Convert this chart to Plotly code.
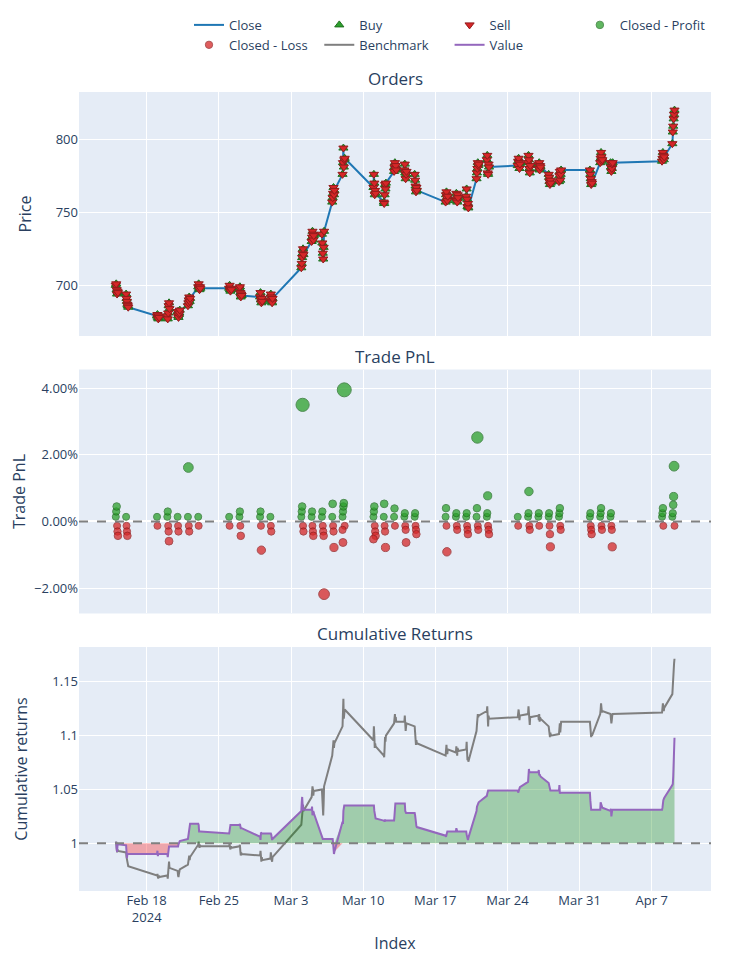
#!/usr/bin/env python3


# +
# import(s)
# -
import plotly.graph_objs as go
from plotly.subplots import make_subplots


# +
# data
# -
days = ['2024-02-15', '2024-02-16', '2024-02-19', '2024-02-20', '2024-02-21', '2024-02-22',
        '2024-02-23', '2024-02-26', '2024-02-27', '2024-02-29', '2024-03-01', '2024-03-04',
        '2024-03-05', '2024-03-06', '2024-03-07', '2024-03-08', '2024-03-11', '2024-03-12',
        '2024-03-13', '2024-03-14', '2024-03-15', '2024-03-18', '2024-03-19', '2024-03-20',
        '2024-03-21', '2024-03-22', '2024-03-25', '2024-03-26', '2024-03-27', '2024-03-28',
        '2024-03-29', '2024-04-01', '2024-04-02', '2024-04-03', '2024-04-08', '2024-04-09']
bar_times = ['00:00', '01:00', '02:00', '03:00', '04:00', '05:00']

# close, 6 bars per day
close = [700, 701, 697, 694, 696, 695,
         694, 691, 689, 687, 686, 685,
         679, 680, 678, 677, 679, 678,
         679, 677, 681, 686, 688, 684,
         682, 679, 678, 680, 681, 683,
         686, 688, 690, 692, 689, 691,
         699, 701, 698, 697, 699, 698,
         698, 700, 697, 696, 698, 697,
         698, 699, 695, 692, 694, 693,
         692, 695, 690, 688, 691, 689,
         690, 694, 692, 689, 688, 691,
         712, 715, 719, 722, 725, 721,
         730, 733, 737, 735, 731, 734,
         735, 729, 722, 718, 726, 737,
         757, 760, 763, 767, 762, 765,
         776, 784, 794, 781, 786, 787,
         767, 776, 770, 762, 765, 763,
         757, 756, 762, 769, 766, 770,
         778, 781, 784, 780, 782, 779,
         779, 783, 777, 773, 776, 778,
         776, 772, 768, 764, 767, 765,
         757, 762, 764, 760, 758, 761,
         759, 763, 758, 757, 762, 760,
         761, 766, 759, 754, 756, 753,
         773, 777, 780, 784, 782, 783,
         786, 789, 777, 776, 783, 781,
         782, 785, 787, 784, 780, 783,
         784, 789, 786, 780, 777, 782,
         783, 780, 784, 779, 782, 781,
         776, 774, 771, 769, 772, 770,
         771, 775, 778, 772, 776, 779,
         779, 776, 773, 769, 771, 770,
         784, 787, 791, 788, 785, 786,
         784, 781, 778, 780, 783, 784,
         785, 787, 791, 789, 786, 788,
         797, 805, 809, 814, 817, 820]

# portfolio value (cumulative returns), 6 bars per day
value = [1.000, 1.001, 0.995, 0.992, 0.998, 0.999,
         0.998, 0.994, 0.986, 0.990, 0.990, 0.990,
         0.990, 0.993, 0.988, 0.990, 0.990, 0.990,
         0.990, 0.987, 0.991, 0.997, 0.997, 0.997,
         0.997, 0.997, 0.999, 1.001, 1.001, 1.002,
         1.004, 1.008, 1.012, 1.016, 1.018, 1.018,
         1.018, 1.017, 1.011, 1.011, 1.011, 1.011,
         1.009, 1.014, 1.017, 1.017, 1.017, 1.017,
         1.017, 1.018, 1.014, 1.014, 1.014, 1.014,
         1.006, 1.003, 1.010, 1.009, 1.009, 1.009,
         1.009, 1.009, 1.008, 1.004, 1.003, 1.004,
         1.030, 1.038, 1.043, 1.036, 1.031, 1.031,
         1.031, 1.034, 1.026, 1.029, 1.030, 1.028,
         1.005, 1.004, 1.004, 1.004, 1.004, 1.004,
         1.004, 1.004, 1.000, 0.995, 0.990, 0.992,
         1.020, 1.018, 1.030, 1.035, 1.035, 1.035,
         1.035, 1.035, 1.030, 1.025, 1.024, 1.023,
         1.021, 1.021, 1.020, 1.022, 1.021, 1.021,
         1.021, 1.026, 1.037, 1.037, 1.037, 1.037,
         1.037, 1.037, 1.030, 1.028, 1.028, 1.028,
         1.028, 1.026, 1.020, 1.016, 1.016, 1.015,
         1.007, 1.006, 1.009, 1.011, 1.011, 1.011,
         1.011, 1.014, 1.011, 1.011, 1.011, 1.011,
         1.011, 1.008, 1.004, 1.004, 1.003, 1.005,
         1.030, 1.034, 1.036, 1.036, 1.037, 1.038,
         1.044, 1.046, 1.049, 1.049, 1.049, 1.049,
         1.049, 1.047, 1.049, 1.050, 1.051, 1.052,
         1.057, 1.063, 1.069, 1.066, 1.066, 1.066,
         1.066, 1.068, 1.063, 1.064, 1.063, 1.062,
         1.056, 1.054, 1.050, 1.049, 1.049, 1.049,
         1.049, 1.054, 1.046, 1.047, 1.047, 1.047,
         1.047, 1.040, 1.031, 1.031, 1.031, 1.031,
         1.031, 1.038, 1.037, 1.035, 1.034, 1.033,
         1.030, 1.032, 1.025, 1.031, 1.031, 1.031,
         1.031, 1.033, 1.040, 1.040, 1.041, 1.042,
         1.054, 1.055, 1.062, 1.077, 1.090, 1.098]

# closed trade pnl in %, one list per day
trade_pnl = [[0.14, 0.30, 0.45, -0.13, -0.30, -0.43],
             [0.14, -0.13, -0.30, -0.43],
             [0.14, -0.13],
             [0.14, 0.30, -0.13, -0.30, -0.59],
             [0.14, -0.13, -0.30],
             [0.14, 1.62, -0.13, -0.30],
             [0.14, -0.13],
             [0.14, -0.13],
             [0.14, 0.30, -0.13, -0.43],
             [0.14, 0.30, -0.13, -0.86],
             [0.14, -0.13, -0.30],
             [0.14, 0.30, 0.45, 3.50, -0.13, -0.30],
             [0.14, 0.30, -0.13, -0.30, -0.43],
             [0.14, 0.30, -0.13, -0.30, -0.43, -2.18],
             [0.14, 0.53, -0.13, -0.30, -0.78],
             [0.14, 0.30, 0.45, 0.55, 3.95, -0.13, -0.25, -0.63],
             [0.14, 0.30, 0.45, -0.13, -0.30, -0.43, -0.53],
             [0.14, 0.53, -0.13, -0.30, -0.78],
             [0.14, 0.39, -0.13],
             [0.14, 0.25, -0.13, -0.25, -0.63],
             [0.14, 0.25, -0.13, -0.25, -0.38],
             [0.14, 0.40, -0.13, -0.91],
             [0.14, 0.25, -0.13, -0.25],
             [0.14, 0.25, -0.13, -0.25, -0.38],
             [0.14, 0.40, 2.52, -0.13, -0.25],
             [0.14, 0.25, 0.77, -0.13, -0.25, -0.38],
             [0.14, -0.13],
             [0.14, 0.25, 0.90, -0.13, -0.25],
             [0.14, 0.25, -0.13],
             [0.14, 0.25, -0.13, -0.38, -0.76],
             [0.14, 0.25, 0.40, -0.13, -0.25],
             [0.14, 0.25, -0.13, -0.25, -0.38],
             [0.14, 0.25, 0.40, -0.13, -0.25],
             [0.14, 0.25, -0.13, -0.25, -0.76],
             [0.14, 0.25, 0.40, -0.13],
             [0.14, 0.25, 0.50, 0.75, 1.66, -0.13]]


# +
# colours
# -
GREEN, GREEN_DARK = '#2ca02c', '#1e6e1e'
RED, RED_DARK = '#d62728', '#931b1c'
WEEK_MS = 7 * 24 * 3600 * 1000


# +
# derived series
# -
ts = [f'{d} {t}' for d in days for t in bar_times]
benchmark = [c / close[0] for c in close]

exit_x, exit_pnl = [], []
for _i, _day in enumerate(days):
    for _k, _p in enumerate(trade_pnl[_i]):
        exit_x.append(f'{_day} {bar_times[_k % len(bar_times)]}')
        exit_pnl.append(_p / 100.0)

_abs = [abs(p) for p in exit_pnl]
_lo, _hi = min(_abs), max(_abs)
exit_size = [7 + 7 * (a - _lo) / (_hi - _lo) for a in _abs]

prof = [i for i, p in enumerate(exit_pnl) if p >= 0]
loss = [i for i, p in enumerate(exit_pnl) if p < 0]


# +
# figure
# -
fig = make_subplots(rows=3, cols=1, shared_xaxes=True, vertical_spacing=0.042,
                    subplot_titles=('Orders', 'Trade PnL', 'Cumulative Returns'))

# orders
fig.add_trace(go.Scatter(x=ts, y=close, mode='lines', name='Close',
                         line=dict(color='#1f77b4', width=2)), row=1, col=1)
fig.add_trace(go.Scatter(x=ts, y=close, mode='markers', name='Buy',
                         marker=dict(symbol='triangle-up', size=8, color=GREEN,
                                     line=dict(width=1, color=GREEN_DARK))), row=1, col=1)
fig.add_trace(go.Scatter(x=ts, y=close, mode='markers', name='Sell',
                         marker=dict(symbol='triangle-down', size=8, color=RED,
                                     line=dict(width=1, color=RED_DARK))), row=1, col=1)

# trade pnl
fig.add_trace(go.Scatter(x=[exit_x[i] for i in prof], y=[exit_pnl[i] for i in prof],
                         mode='markers', name='Closed - Profit',
                         marker=dict(size=[exit_size[i] for i in prof], color=GREEN, opacity=0.75,
                                     line=dict(width=1, color=GREEN_DARK))), row=2, col=1)
fig.add_trace(go.Scatter(x=[exit_x[i] for i in loss], y=[exit_pnl[i] for i in loss],
                         mode='markers', name='Closed - Loss',
                         marker=dict(size=[exit_size[i] for i in loss], color=RED, opacity=0.75,
                                     line=dict(width=1, color=RED_DARK))), row=2, col=1)

# cumulative returns
fig.add_trace(go.Scatter(x=ts, y=benchmark, mode='lines', name='Benchmark',
                         line=dict(color='#7f7f7f', width=2)), row=3, col=1)
_one = [1.0] * len(ts)
_clear = dict(color='rgba(0, 0, 0, 0)', width=0)
fig.add_trace(go.Scatter(x=ts, y=_one, mode='lines', line=_clear, showlegend=False,
                         hoverinfo='skip'), row=3, col=1)
fig.add_trace(go.Scatter(x=ts, y=[max(v, 1.0) for v in value], mode='lines', line=_clear,
                         fill='tonexty', fillcolor='rgba(0, 128, 0, 0.3)', showlegend=False,
                         hoverinfo='skip'), row=3, col=1)
fig.add_trace(go.Scatter(x=ts, y=_one, mode='lines', line=_clear, showlegend=False,
                         hoverinfo='skip'), row=3, col=1)
fig.add_trace(go.Scatter(x=ts, y=[min(v, 1.0) for v in value], mode='lines', line=_clear,
                         fill='tonexty', fillcolor='rgba(255, 0, 0, 0.3)', showlegend=False,
                         hoverinfo='skip'), row=3, col=1)
fig.add_trace(go.Scatter(x=ts, y=value, mode='lines', name='Value',
                         line=dict(color='#9467bd', width=2)), row=3, col=1)

# zero / one lines
fig.add_hline(y=0, line=dict(color='gray', dash='dash', width=2), row=2, col=1)
fig.add_hline(y=1, line=dict(color='gray', dash='dash', width=2), row=3, col=1)

# layout
fig.update_layout(width=743, height=973, margin=dict(l=71, r=40, t=84, b=90),
                  font=dict(size=13),
                  legend=dict(orientation='h', yref='container', yanchor='top', y=0.998,
                              xanchor='right', x=1, traceorder='normal', font=dict(size=13)),
                  hovermode='closest')
fig.update_annotations(font_size=17)
fig.update_xaxes(range=['2024-02-11 10:20', '2024-04-12 18:00'],
                 tick0='2024-02-18', dtick=WEEK_MS, automargin=False)
fig.update_xaxes(title_text='Index', title_standoff=12, row=3, col=1)
fig.update_yaxes(automargin=False, title_standoff=20)
fig.update_yaxes(title_text='Price', range=[665.3, 832.4], row=1, col=1)
fig.update_yaxes(title_text='Trade PnL', title_standoff=30, tickformat='.2%',
                 range=[-0.0276, 0.0456], row=2, col=1)
fig.update_yaxes(title_text='Cumulative returns', range=[0.9556, 1.1823], row=3, col=1)

fig.write_html('out.html')
